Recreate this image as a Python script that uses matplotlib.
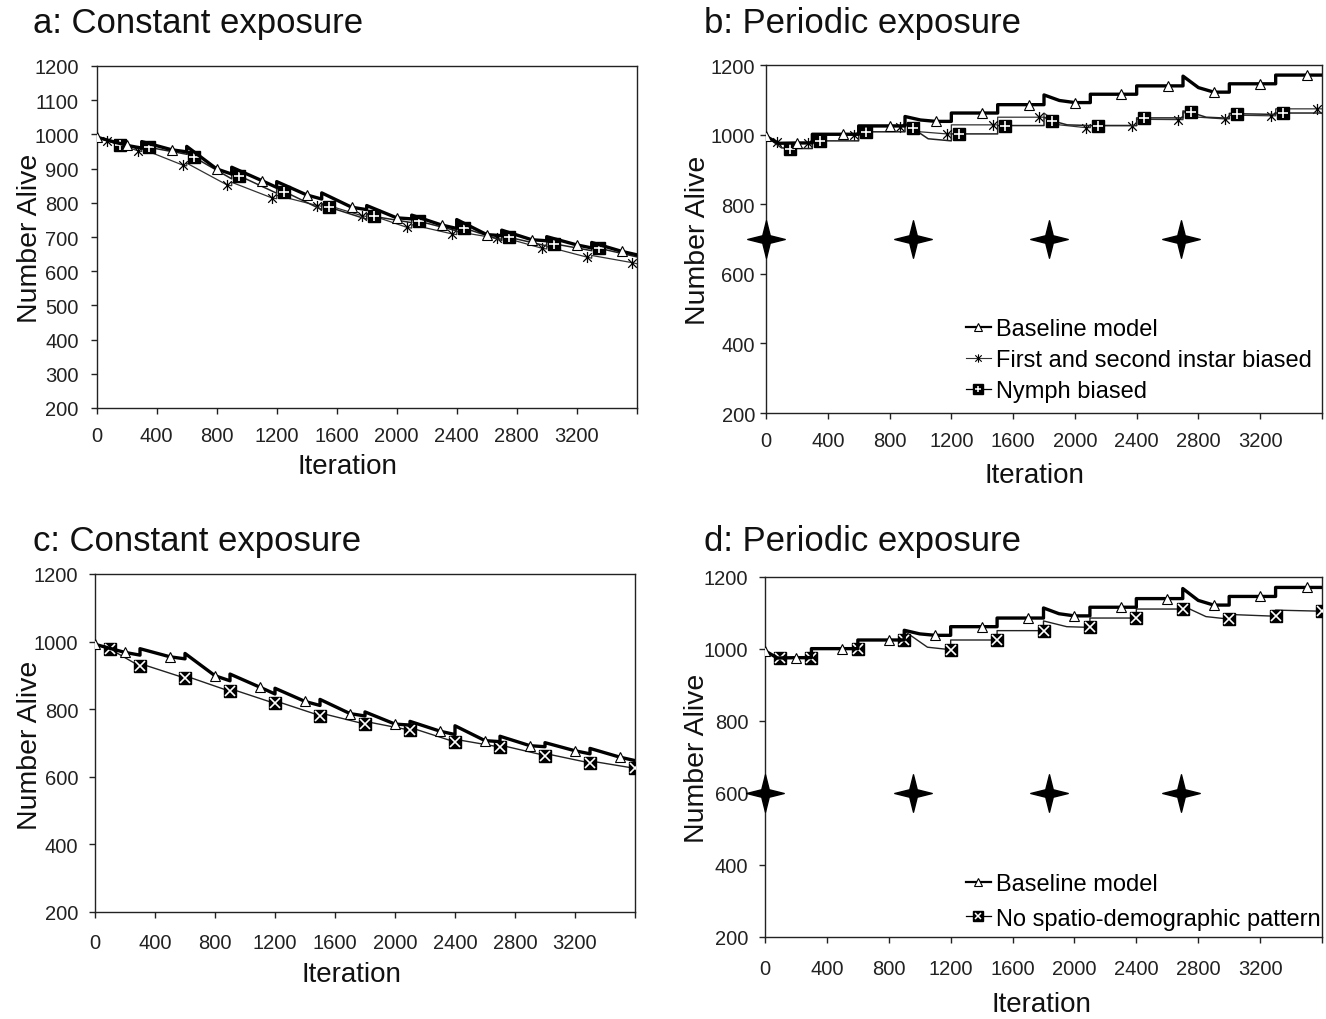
import numpy as np
import matplotlib
matplotlib.use("Agg")
import matplotlib.pyplot as plt
from matplotlib.path import Path
from matplotlib.lines import Line2D

plt.rcParams['font.family'] = ['Liberation Sans', 'DejaVu Sans']

# -----------------------------
# Data (iteration, number alive)
# -----------------------------
x_ticks = [0, 400, 800, 1200, 1600, 2000, 2400, 2800, 3200, 3600]
x_labels = ['0', '400', '800', '1200', '1600', '2000', '2400', '2800', '3200', '']

# constant exposure baseline (panels a and c)
base_const_x = [0, 200, 300, 300, 500, 600, 600, 800, 900, 900, 1100, 1200, 1200, 1400, 1500, 1500,
                1700, 1800, 1800, 2000, 2100, 2100, 2300, 2400, 2400, 2600, 2700, 2700, 2900, 3000,
                3000, 3200, 3300, 3300, 3500, 3600]
base_const_y = [992, 968, 960, 979, 955, 949, 965, 899, 884, 904, 865, 845, 862, 823, 811, 829,
                787, 780, 792, 756, 753, 764, 735, 725, 751, 707, 704, 720, 692, 689,
                701, 677, 668, 684, 658, 648]
base_const_marks = [0, 1, 4, 7, 10, 13, 16, 19, 22, 25, 28, 31, 34]

instar_const_x = [0, 70, 275, 300, 300, 575, 600, 600, 870, 900, 900, 1170, 1200, 1200, 1470, 1500,
                  1500, 1770, 1800, 1800, 2070, 2100, 2100, 2370, 2400, 2400, 2670, 2700, 2700, 2970,
                  3000, 3000, 3270, 3300, 3300, 3570, 3600]
instar_const_y = [992, 982, 952, 950, 958, 910, 908, 916, 852, 850, 860, 814, 812, 822, 792, 790,
                  798, 762, 760, 768, 728, 726, 736, 709, 707, 716, 696, 694, 700, 667,
                  665, 672, 641, 638, 646, 625, 622]
instar_const_marks = [1, 2, 5, 8, 11, 14, 17, 20, 23, 26, 29, 32, 35]

nymph_const_x = [0, 155, 300, 300, 350, 600, 600, 650, 900, 900, 950, 1200, 1200, 1250, 1500, 1500,
                 1550, 1800, 1800, 1850, 2100, 2100, 2150, 2400, 2400, 2450, 2700, 2700, 2750, 3000,
                 3000, 3050, 3300, 3300, 3350, 3600]
nymph_const_y = [992, 969, 958, 968, 962, 942, 945, 933, 870, 888, 879, 828, 842, 833, 780, 796,
                 787, 752, 768, 760, 742, 752, 746, 718, 732, 726, 690, 705, 699, 674,
                 686, 680, 660, 672, 667, 642]
nymph_const_marks = [1, 4, 7, 10, 13, 16, 19, 22, 25, 28, 31, 34]

nosd_const_x = [0, 100, 300, 300, 600, 600, 900, 900, 1200, 1200, 1500, 1500, 1800, 1800, 2100,
                2100, 2400, 2400, 2700, 2700, 3000, 3000, 3300, 3300, 3600]
nosd_const_y = [992, 978, 927, 935, 892, 899, 853, 861, 817, 825, 781, 789, 756, 764, 738,
                746, 703, 711, 688, 694, 663, 669, 641, 647, 625]
nosd_const_marks = [1, 2, 4, 6, 8, 10, 12, 14, 16, 18, 20, 22, 24]

# periodic exposure baseline (panels b and d)
base_per_x = [0, 80, 200, 300, 300, 500, 600, 600, 800, 900, 900, 1000, 1100, 1200, 1200, 1400,
              1500, 1500, 1700, 1800, 1800, 1900, 2000, 2100, 2100, 2300, 2400, 2400, 2600, 2700,
              2700, 2800, 2900, 3000, 3000, 3200, 3300, 3300, 3500, 3600]
base_per_y = [995, 975, 976, 976, 1001, 1001, 1001, 1025, 1025, 1025, 1052, 1042, 1038, 1038, 1062, 1062,
              1062, 1086, 1086, 1086, 1114, 1098, 1092, 1092, 1116, 1116, 1116, 1140, 1140, 1140,
              1168, 1135, 1122, 1122, 1146, 1146, 1146, 1171, 1171, 1171]
base_per_marks = [0, 2, 5, 8, 12, 15, 18, 22, 25, 28, 32, 35, 38]

instar_per_x = [0, 70, 100, 270, 300, 300, 570, 600, 600, 870, 900, 900, 1000, 1170, 1200, 1200,
                1470, 1500, 1500, 1770, 1800, 1800, 1900, 2070, 2100, 2100, 2370, 2400, 2400, 2670,
                2700, 2700, 2800, 2970, 3000, 3000, 3270, 3300, 3300, 3570, 3600]
instar_per_y = [995, 978, 976, 976, 976, 999, 999, 999, 1023, 1023, 1023, 1032, 1008, 1002, 1002, 1028,
                1028, 1028, 1050, 1050, 1050, 1062, 1028, 1020, 1020, 1026, 1026, 1026, 1044, 1043,
                1043, 1064, 1050, 1045, 1045, 1056, 1054, 1054, 1074, 1074, 1074]
instar_per_marks = [1, 3, 6, 9, 13, 16, 19, 23, 26, 29, 33, 36, 39]

nymph_per_x = [0, 100, 155, 300, 300, 350, 600, 600, 650, 900, 900, 950, 1050, 1200, 1200, 1250,
               1500, 1500, 1550, 1800, 1800, 1850, 1950, 2100, 2100, 2150, 2400, 2400, 2450, 2700,
               2700, 2750, 2850, 3000, 3000, 3050, 3300, 3300, 3350, 3600]
nymph_per_y = [995, 962, 960, 960, 982, 982, 982, 1008, 1008, 1008, 1030, 1018, 988, 982, 1002, 1002,
               1002, 1026, 1026, 1026, 1050, 1040, 1028, 1026, 1026, 1026, 1026, 1048, 1048, 1048,
               1068, 1064, 1050, 1047, 1061, 1060, 1058, 1062, 1062, 1062]
nymph_per_marks = [2, 5, 8, 11, 15, 18, 21, 25, 28, 31, 35, 38]

nosd_per_x = [0, 80, 100, 300, 300, 600, 600, 900, 900, 1050, 1200, 1200, 1500, 1500, 1800, 1800,
              1950, 2100, 2100, 2400, 2400, 2700, 2700, 2850, 3000, 3000, 3300, 3300, 3600]
nosd_per_y = [995, 975, 974, 974, 1000, 1000, 1025, 1025, 1050, 1005, 998, 1025, 1025, 1051, 1051, 1078,
              1062, 1060, 1086, 1086, 1111, 1111, 1120, 1090, 1083, 1096, 1091, 1108, 1105]
nosd_per_marks = [2, 3, 5, 7, 10, 12, 14, 17, 19, 21, 24, 26, 28]

# exposure events (stars)
exposure_x = [0, 955, 1835, 2690]
exposure_y_b = 700
exposure_y_d = 600

# -----------------------------
# Marker shapes
# -----------------------------
a = 0.2
star = Path([(0, 1), (a, a), (1, 0), (a, -a), (0, -1), (-a, -a), (-1, 0), (-a, a), (0, 1)],
            [Path.MOVETO] + [Path.LINETO] * 7 + [Path.CLOSEPOLY])
asterisk = Path([(-1, -1), (1, 1), (-1, 1), (1, -1), (0, -1.3), (0, 1.3)],
                [Path.MOVETO, Path.LINETO] * 3)

W, H = 1326, 1020


def px_axes(fig, l, t, r, b):
    return fig.add_axes([l / W, 1 - b / H, (r - l) / W, (b - t) / H])


def setup(ax, yticks, xpad, ypad):
    ax.set_xlim(0, 3600)
    ax.set_ylim(200, 1200)
    ax.set_xticks(x_ticks)
    ax.set_xticklabels(x_labels)
    ax.set_yticks(yticks)
    ax.tick_params(direction='out', length=4, width=1, labelsize=14.5, colors='#222222')
    ax.tick_params(axis='x', pad=xpad)
    ax.tick_params(axis='y', pad=ypad)
    for s in ax.spines.values():
        s.set_linewidth(1.0)
        s.set_color('#222222')


def baseline(ax, x, y, marks):
    ax.plot(x, y, color='k', lw=2.4, marker='^', ms=7.5, mfc='white', mec='k', mew=0.8,
            markevery=marks, zorder=4)


def instar(ax, x, y, marks):
    ax.plot(x, y, color='#333333', lw=0.9, marker=asterisk, ms=8, mfc='none', mec='k', mew=0.9,
            markevery=marks, zorder=2)


def boxed(ax, x, y, marks, inner, lw):
    ax.plot(x, y, color='#222222', lw=lw, marker='s', ms=9, mfc='k', mec='k',
            markevery=marks, zorder=3)
    ax.plot(x, y, ls='none', marker=inner, ms=7, mec='white', mew=1.2,
            markevery=marks, zorder=3)


def stars(ax, yv):
    ax.plot(exposure_x, [yv] * len(exposure_x), ls='none', marker=star, ms=27,
            color='k', clip_on=False, zorder=5)


fig = plt.figure(figsize=(W / 100, H / 100), dpi=100)

# a: constant exposure
ax_a = px_axes(fig, 96.7, 67, 636.7, 409)
setup(ax_a, range(200, 1201, 100), 9, 9)
instar(ax_a, instar_const_x, instar_const_y, instar_const_marks)
boxed(ax_a, nymph_const_x, nymph_const_y, nymph_const_marks, '+', 1.1)
baseline(ax_a, base_const_x, base_const_y, base_const_marks)

# b: periodic exposure
ax_b = px_axes(fig, 766, 66, 1322, 414)
setup(ax_b, range(200, 1201, 200), 9, 4)
instar(ax_b, instar_per_x, instar_per_y, instar_per_marks)
boxed(ax_b, nymph_per_x, nymph_per_y, nymph_per_marks, '+', 1.1)
baseline(ax_b, base_per_x, base_per_y, base_per_marks)
stars(ax_b, exposure_y_b)

h_base = Line2D([], [], color='k', lw=1.6, marker='^', ms=6, mfc='white', mec='k', mew=0.8)
h_inst = Line2D([], [], color='#333333', lw=0.8, marker=asterisk, ms=6, mfc='none', mec='k', mew=0.8)
h_nym = (Line2D([], [], color='k', lw=0.9, marker='s', ms=7, mfc='k', mec='k'),
         Line2D([], [], ls='none', marker='+', ms=5, mec='white', mew=1.1))
h_nosd = (Line2D([], [], color='k', lw=0.9, marker='s', ms=7, mfc='k', mec='k'),
          Line2D([], [], ls='none', marker='x', ms=5, mec='white', mew=1.1))

ax_b.legend([h_base, h_inst, h_nym],
            ['Baseline model', 'First and second instar biased', 'Nymph biased'],
            loc='upper left', bbox_to_anchor=(966 / W, 1 - 319 / H), bbox_transform=fig.transFigure,
            frameon=False, fontsize=17, handlelength=1.05, handletextpad=0.2,
            labelspacing=0.39, borderpad=0, borderaxespad=0)

# c: constant exposure
ax_c = px_axes(fig, 95, 575, 635, 913)
setup(ax_c, range(200, 1201, 200), 11, 8)
boxed(ax_c, nosd_const_x, nosd_const_y, nosd_const_marks, 'x', 1.0)
baseline(ax_c, base_const_x, base_const_y, base_const_marks)

# d: periodic exposure
ax_d = px_axes(fig, 765, 578, 1322, 938)
setup(ax_d, range(200, 1201, 200), 12, 8)
boxed(ax_d, nosd_per_x, nosd_per_y, nosd_per_marks, 'x', 1.0)
baseline(ax_d, base_per_x, base_per_y, base_per_marks)
stars(ax_d, exposure_y_d)

ax_d.legend([h_base, h_nosd], ['Baseline model', 'No spatio-demographic pattern'],
            loc='upper left', bbox_to_anchor=(966 / W, 1 - 874 / H), bbox_transform=fig.transFigure,
            frameon=False, fontsize=17, handlelength=1.05, handletextpad=0.2,
            labelspacing=0.54, borderpad=0, borderaxespad=0)

# titles and axis labels
titles = ['a: Constant exposure', 'b: Periodic exposure', 'c: Constant exposure', 'd: Periodic exposure']
title_pos = [(33, 23), (704, 23), (33, 542), (704, 541)]
xlab_pos = [(347, 467), (1034, 476), (351, 975), (1041, 1005)]
ylab_pos = [(30, 238), (698, 240), (30, 745), (697, 758)]
for t, (tx, ty), (xx, xy), (yx, yy) in zip(titles, title_pos, xlab_pos, ylab_pos):
    fig.text(tx / W, 1 - ty / H, t, fontsize=25, ha='left', va='center', color='#111111')
    fig.text(xx / W, 1 - xy / H, 'Iteration', fontsize=20, ha='center', va='center', color='#111111')
    fig.text(yx / W, 1 - yy / H, 'Number Alive', fontsize=20.5, ha='center', va='center',
             rotation=90, color='#111111')

fig.savefig('out.png', dpi=100)
